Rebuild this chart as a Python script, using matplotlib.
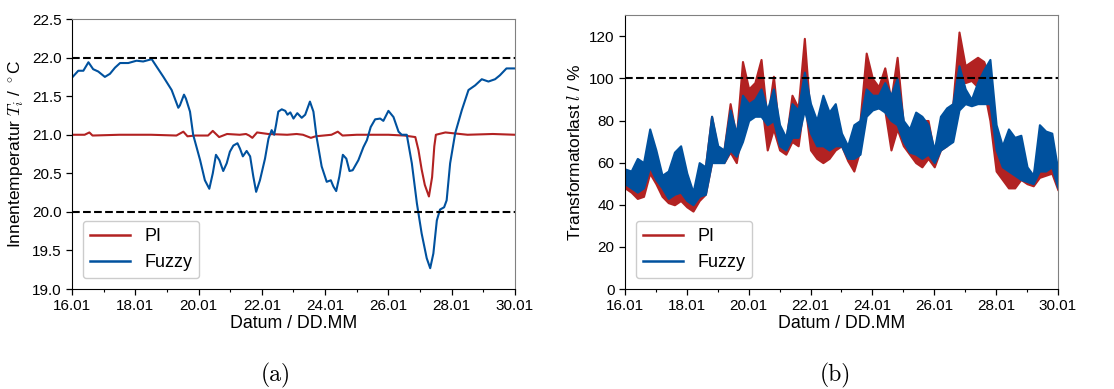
import numpy as np
import matplotlib
matplotlib.use("Agg")
import matplotlib.pyplot as plt
from matplotlib import font_manager
from matplotlib.lines import Line2D
from matplotlib.ticker import MultipleLocator

# nur die normale Liberation Sans verwenden, nicht die Narrow-Variante
font_manager.fontManager.ttflist = [f for f in font_manager.fontManager.ttflist
                                    if 'Narrow' not in f.fname]
plt.rcParams['font.family'] = ['Liberation Sans', 'DejaVu Sans']
plt.rcParams['mathtext.fontset'] = 'cm'

# Innentemperatur (Tage ab 16.01)
fuzzy_t = [16.0, 16.2, 16.36, 16.52, 16.67, 16.83, 17.04, 17.2, 17.36, 17.52, 17.78, 18.04, 18.25,
           18.52, 18.68, 18.89, 19.15, 19.36, 19.41, 19.54, 19.6, 19.73, 19.83, 20.05, 20.2, 20.34,
           20.45, 20.55, 20.66, 20.78, 20.89, 20.99, 21.1, 21.23, 21.31, 21.4, 21.52, 21.63, 21.73,
           21.82, 21.94, 22.1, 22.21, 22.31, 22.39, 22.45, 22.52, 22.63, 22.74, 22.81, 22.9, 23.0,
           23.12, 23.26, 23.37, 23.52, 23.63, 23.73, 23.89, 24.05, 24.18, 24.26, 24.35, 24.45, 24.56,
           24.67, 24.77, 24.87, 25.05, 25.21, 25.32, 25.44, 25.58, 25.74, 25.84, 26.0, 26.16, 26.32,
           26.42, 26.58, 26.74, 26.9, 27.05, 27.21, 27.32, 27.42, 27.53, 27.63, 27.76, 27.84, 27.95,
           28.11, 28.32, 28.53, 28.74, 28.95, 29.16, 29.37, 29.52, 29.73, 30.0]
fuzzy_temp = [21.74, 21.83, 21.83, 21.94, 21.85, 21.82, 21.75, 21.79, 21.87, 21.93, 21.93, 21.96, 21.95,
              21.98, 21.88, 21.75, 21.58, 21.35, 21.38, 21.52, 21.47, 21.30, 21.0, 20.67, 20.41, 20.30,
              20.5, 20.74, 20.67, 20.53, 20.63, 20.78, 20.86, 20.89, 20.82, 20.72, 20.79, 20.72, 20.46,
              20.26, 20.41, 20.69, 20.95, 21.06, 21.0, 21.13, 21.30, 21.33, 21.31, 21.26, 21.29, 21.21,
              21.28, 21.22, 21.26, 21.43, 21.30, 20.97, 20.59, 20.39, 20.41, 20.33, 20.27, 20.46, 20.74,
              20.69, 20.53, 20.54, 20.67, 20.84, 20.93, 21.1, 21.2, 21.21, 21.18, 21.31, 21.23, 21.04,
              21.0, 21.0, 20.63, 20.11, 19.72, 19.40, 19.27, 19.46, 19.89, 20.03, 20.06, 20.15, 20.63,
              21.02, 21.32, 21.58, 21.64, 21.72, 21.69, 21.72, 21.77, 21.86, 21.86]

pi_t = [16.0, 16.4, 16.55, 16.65, 17.5, 18.5, 19.3, 19.52, 19.65, 19.9, 20.3, 20.45, 20.65, 20.9,
        21.3, 21.5, 21.6, 21.7, 21.85, 22.2, 22.8, 23.1, 23.3, 23.55, 23.7, 24.2, 24.4, 24.55, 25.0,
        26.0, 26.5, 26.85, 26.95, 27.05, 27.15, 27.28, 27.38, 27.45, 27.5, 27.8, 28.5, 29.3, 30.0]
pi_temp = [21.0, 21.0, 21.03, 20.99, 21.0, 21.0, 20.99, 21.04, 20.98, 20.99, 20.99, 21.05, 20.97, 21.01,
           21.0, 21.01, 20.99, 20.96, 21.03, 21.01, 21.0, 21.01, 21.0, 20.96, 20.98, 21.0, 21.04, 20.99, 21.0,
           21.0, 20.99, 20.97, 20.8, 20.55, 20.35, 20.2, 20.45, 20.85, 21.0, 21.03, 21.0, 21.01, 21.0]

# Transformatorlast: untere/obere Huellkurve des verrauschten Verlaufs, alle 0.2 Tage
last_t = [16.0 + 0.2 * i for i in range(71)]
fuzzy_lo = [50, 48, 46, 48, 58, 52, 48, 43, 45, 46, 42, 40, 44, 45, 60, 60, 60, 66, 63, 70,
            80, 82, 82, 78, 80, 68, 66, 72, 72, 85, 74, 68, 68, 66, 68, 68, 62, 62, 64, 82,
            85, 86, 84, 80, 78, 70, 65, 64, 62, 64, 60, 66, 68, 70, 85, 88, 87, 88, 88, 88,
            66, 58, 56, 54, 52, 51, 50, 56, 56, 58, 48]
fuzzy_hi = [57, 56, 62, 60, 76, 66, 54, 56, 65, 68, 55, 46, 60, 58, 82, 68, 66, 85, 74, 92,
            88, 90, 95, 85, 95, 78, 72, 88, 85, 103, 88, 80, 92, 84, 88, 74, 68, 78, 80, 95,
            92, 92, 98, 92, 100, 80, 76, 84, 82, 78, 66, 82, 86, 88, 106, 95, 90, 98, 104, 109,
            78, 68, 76, 72, 73, 58, 54, 78, 75, 74, 56]
pi_lo = [48, 46, 43, 44, 55, 50, 44, 41, 40, 42, 39, 37, 42, 45, 60, 63, 60, 65, 60, 78,
         88, 90, 90, 66, 76, 66, 64, 70, 68, 90, 66, 62, 60, 62, 66, 68, 61, 56, 66, 88,
         92, 86, 85, 66, 76, 68, 64, 60, 58, 62, 58, 66, 68, 72, 100, 98, 99, 96, 95, 80,
         56, 52, 48, 48, 52, 50, 49, 53, 54, 55, 47]
pi_hi = [56, 52, 58, 56, 72, 62, 50, 50, 52, 52, 46, 42, 52, 58, 82, 66, 66, 88, 72, 108,
         95, 98, 109, 80, 101, 72, 70, 92, 86, 119, 80, 72, 80, 78, 86, 72, 66, 70, 80, 112,
         100, 96, 105, 90, 110, 78, 74, 76, 80, 80, 64, 80, 84, 88, 122, 106, 108, 110, 108, 100,
         68, 60, 62, 58, 68, 56, 53, 72, 64, 70, 55]

red = '#b22222'
blue = '#00519e'
tage = np.arange(16, 31, 2)
tage_lbl = ['%02d.01' % d for d in tage]

fig = plt.figure(figsize=(11.14, 3.89), dpi=100)
ax1 = fig.add_axes([0.0646, 0.257, 0.3977, 0.694])
ax2 = fig.add_axes([0.561, 0.257, 0.3887, 0.704])

# (a) Innentemperatur
ax1.plot(pi_t, pi_temp, color=red, lw=1.5, label='PI')
ax1.plot(fuzzy_t, fuzzy_temp, color=blue, lw=1.5, label='Fuzzy')
ax1.axhline(22.0, color='k', ls='--', lw=1.5)
ax1.axhline(20.0, color='k', ls='--', lw=1.5)
ax1.set_ylim(19.0, 22.5)
ax1.set_yticks(np.arange(19.0, 22.51, 0.5))
ax1.set_yticklabels(['%.1f' % v for v in np.arange(19.0, 22.51, 0.5)])
ax1.set_ylabel(r'Innentemperatur $T_i$ / $^\circ$C', fontsize=12.5)

# (b) Transformatorlast, Band zwischen unterer und oberer Kurve
ax2.fill_between(last_t, pi_lo, pi_hi, color=red, lw=1.5)
ax2.fill_between(last_t, fuzzy_lo, fuzzy_hi, color=blue, lw=1.5)
ax2.axhline(100, color='k', ls='--', lw=1.5)
ax2.set_ylim(0, 130)
ax2.set_yticks(np.arange(0, 121, 20))
ax2.set_ylabel(r'Transformatorlast $l$ / %', fontsize=12.5)

for ax in (ax1, ax2):
    ax.set_xlim(16, 30)
    ax.set_xticks(tage)
    ax.set_xticklabels(tage_lbl)
    ax.xaxis.set_minor_locator(MultipleLocator(1))
    ax.tick_params(labelsize=11, length=4, width=0.9)
    ax.tick_params(which='minor', length=2.5, width=0.8)
    ax.set_xlabel('Datum / DD.MM', fontsize=12.8, labelpad=1)
    ax.spines['top'].set_color('0.5')
    ax.spines['right'].set_color('0.5')
    handles = [Line2D([], [], color=red, lw=1.8), Line2D([], [], color=blue, lw=1.8)]
    ax.legend(handles, ['PI', 'Fuzzy'], loc='lower left', fontsize=13,
              handlelength=2.2, borderaxespad=0.6, framealpha=1, edgecolor='0.8')

fig.text(0.248, 0.035, '(a)', fontsize=17, family='cmr10', ha='center', va='center')
fig.text(0.750, 0.035, '(b)', fontsize=17, family='cmr10', ha='center', va='center')

fig.savefig('out.png', dpi=100)
